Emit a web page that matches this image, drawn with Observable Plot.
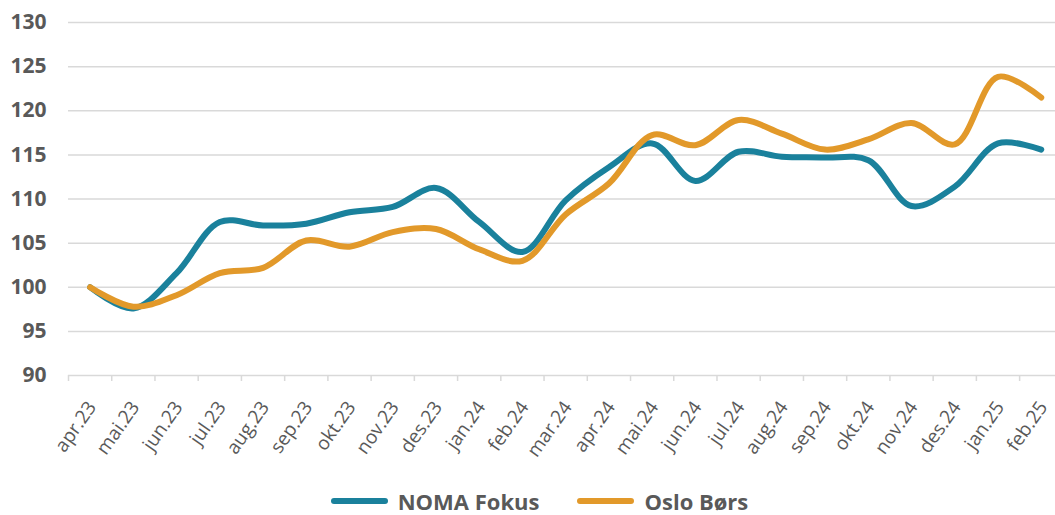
<!DOCTYPE html>
<html>
<head>
<meta charset="utf-8">
<script src="https://cdn.jsdelivr.net/npm/d3@7"></script>
<script src="https://cdn.jsdelivr.net/npm/@observablehq/plot@0.6"></script>
<style>
  html, body { margin: 0; padding: 0; background: #fff; }
  #chart { width: 1055px; height: 515px; position: relative; overflow: hidden; }
  svg { overflow: visible; }
  .legend { position: absolute; left: 0; top: 486px; width: 1055px; display: flex; justify-content: center; align-items: center; padding-left: 24px; box-sizing: border-box;
    font-family: "Open Sans", sans-serif; font-weight: bold; font-size: 22px; color: #595959; }
  .legend .item { display: flex; align-items: center; margin: 0 19px; }
  .legend .sw { width: 57px; height: 6px; border-radius: 3px; margin-right: 10px; }
</style>
</head>
<body>
<div id="chart"></div>
<script>
const months = ["apr.23","mai.23","jun.23","jul.23","aug.23","sep.23","okt.23","nov.23","des.23","jan.24","feb.24","mar.24","apr.24","mai.24","jun.24","jul.24","aug.24","sep.24","okt.24","nov.24","des.24","jan.25","feb.25"];
const noma = [100, 97.6, 101.6, 107.4, 107.0, 107.2, 108.5, 109.1, 111.25, 107.4, 104.0, 109.85, 113.6, 116.3, 112.05, 115.35, 114.8, 114.7, 114.4, 109.2, 111.4, 116.3, 115.6];
const oslo = [100, 97.8, 99.1, 101.6, 102.2, 105.3, 104.6, 106.25, 106.6, 104.3, 103.0, 108.25, 111.75, 117.25, 116.1, 118.95, 117.4, 115.6, 116.75, 118.6, 116.2, 123.85, 121.5];
const yTicks = [90, 95, 100, 105, 110, 115, 120, 125, 130];
const seriesNames = ["NOMA Fokus", "Oslo Børs"];
const seriesColors = ["#1a819c", "#e2992a"];

const rows = [];
months.forEach((m, i) => {
  rows.push({i, month: m, value: noma[i], series: seriesNames[0]});
});
months.forEach((m, i) => {
  rows.push({i, month: m, value: oslo[i], series: seriesNames[1]});
});
const idx = months.map((_, i) => i);
const bounds = months.map((_, i) => i - 0.5);

const plot = Plot.plot({
  width: 1055,
  height: 470,
  marginTop: 22,
  marginBottom: 95,
  marginLeft: 68,
  marginRight: 0,
  x: {type: "linear", domain: [-0.5, 22.33]},
  y: {domain: [90, 130]},
  color: {domain: seriesNames, range: seriesColors},
  style: {fontFamily: "Open Sans, sans-serif", background: "#fff"},
  marks: [
    Plot.ruleY(yTicks, {stroke: "#d9d9d9", strokeWidth: 1.5}),
    Plot.axisY(yTicks, {tickSize: 0, tickPadding: 22, fontSize: 21, fontWeight: "bold", fill: "#595959", label: null}),
    Plot.axisX(bounds, {tickSize: 6, stroke: "#d9d9d9", strokeWidth: 1.5, tickFormat: () => "", label: null}),
    Plot.axisX(idx, {tickSize: 0, tickPadding: 28, dx: 2, tickRotate: -55, fontSize: 19, fill: "#595959", tickFormat: i => months[i], label: null}),
    Plot.line(rows, {x: "i", y: "value", z: "series", stroke: "series", strokeWidth: 6, curve: "catmull-rom", strokeLinecap: "round", strokeLinejoin: "round"})
  ]
});
document.getElementById("chart").appendChild(plot);

const legend = document.createElement("div");
legend.className = "legend";
seriesNames.forEach((name, k) => {
  const item = document.createElement("div");
  item.className = "item";
  const sw = document.createElement("div");
  sw.className = "sw";
  sw.style.background = seriesColors[k];
  const t = document.createElement("span");
  t.textContent = name;
  item.appendChild(sw);
  item.appendChild(t);
  legend.appendChild(item);
});
document.getElementById("chart").appendChild(legend);
</script>
</body>
</html>
